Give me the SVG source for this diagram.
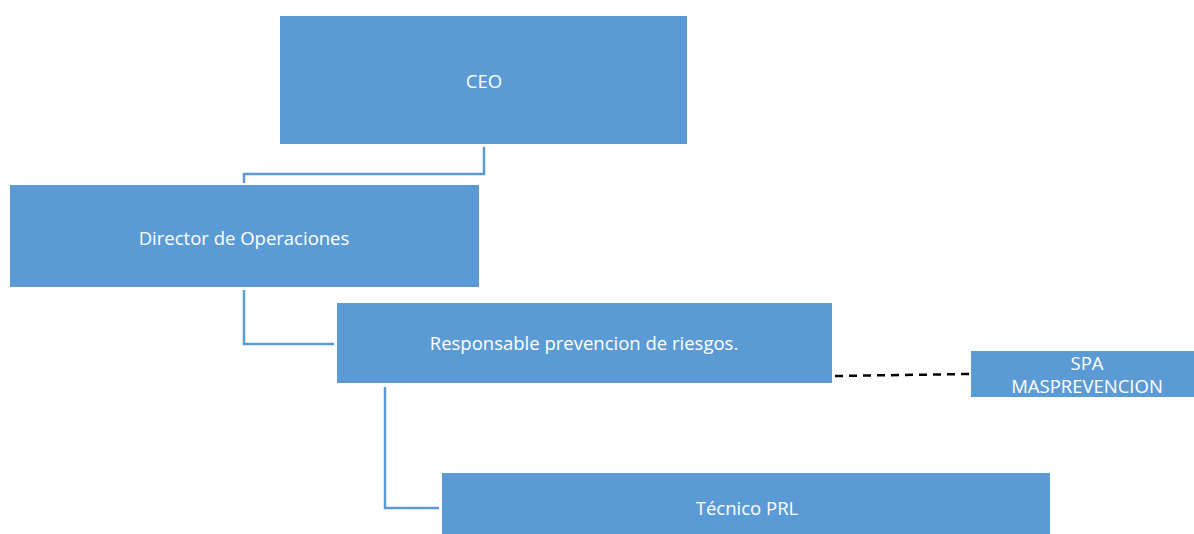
<svg xmlns="http://www.w3.org/2000/svg" width="1194" height="534" viewBox="0 0 1194 534">
<style>
.box{fill:#5B9BD5;}
.t{fill:#ffffff;font-family:"Open Sans","Liberation Sans",sans-serif;font-size:18.5px;text-anchor:middle;dominant-baseline:central;}
.c{fill:none;stroke:#5B9BD5;stroke-width:2.5;}
.d{fill:none;stroke:#000000;stroke-width:2.5;stroke-dasharray:8,6;}
</style>
<rect width="1194" height="534" fill="#ffffff"/>
<g id="connectors">
<polyline class="c" points="484,147 484,174 244,174 244,183"/>
<polyline class="c" points="244,290 244,344 334,344"/>
<polyline class="c" points="385,387 385,508 439,508"/>
<line class="d" x1="835" y1="376" x2="969" y2="374"/>
</g>
<g id="ceo">
<rect class="box" x="280" y="16" width="407" height="128"/>
<text class="t" x="484" y="80">CEO</text>
</g>
<g id="director">
<rect class="box" x="10" y="185" width="469" height="102"/>
<text class="t" x="244" y="237">Director de Operaciones</text>
</g>
<g id="responsable">
<rect class="box" x="337" y="303" width="495" height="80"/>
<text class="t" x="584" y="342">Responsable prevencion de riesgos.</text>
</g>
<g id="spa">
<rect class="box" x="971" y="351" width="223" height="46"/>
<text class="t" x="1087" y="362">SPA</text>
<text class="t" x="1087" y="385">MASPREVENCION</text>
</g>
<g id="tecnico">
<rect class="box" x="442" y="473" width="608" height="61"/>
<text class="t" x="747" y="507">Técnico PRL</text>
</g>
</svg>
